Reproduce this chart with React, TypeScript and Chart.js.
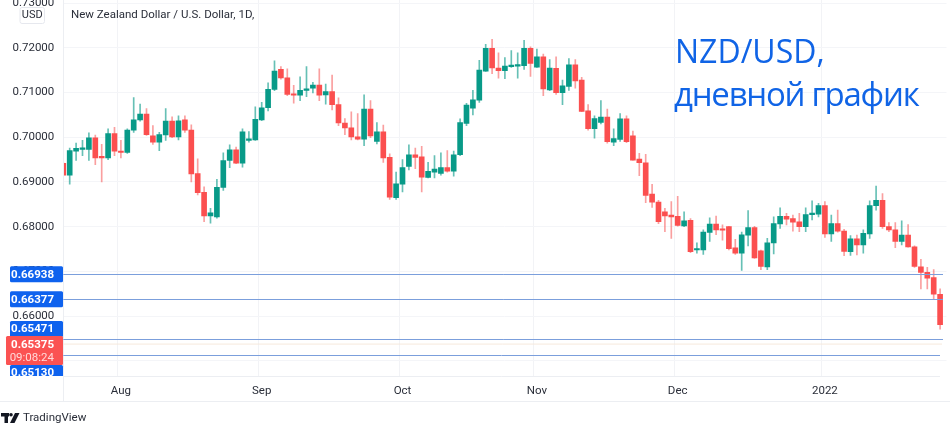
import { useEffect, useRef } from "react";
import { Chart, registerables } from "chart.js";

Chart.register(...registerables);

const opens = [
  0.6942, 0.6915, 0.6969, 0.6973, 0.6973, 0.6999, 0.6955, 0.6954, 0.7008, 0.6969,
  0.6966, 0.7016, 0.7039, 0.7052, 0.7003, 0.6989, 0.7005, 0.7036, 0.7001, 0.7039,
  0.7016, 0.6919, 0.6877, 0.6824, 0.6822, 0.6888, 0.6948, 0.6972, 0.6942, 0.6993,
  0.6994, 0.7039, 0.7066, 0.7107, 0.7152, 0.7133, 0.7097, 0.7094, 0.7105, 0.711,
  0.7117, 0.7095, 0.7102, 0.7073, 0.7032, 0.7021, 0.7001, 0.6996, 0.7063, 0.6991,
  0.7012, 0.6955, 0.6865, 0.6895, 0.6935, 0.6961, 0.6956, 0.691, 0.6922, 0.6919,
  0.6932, 0.6924, 0.6961, 0.7031, 0.7065, 0.7083, 0.7148, 0.7199, 0.7155, 0.7149,
  0.7158, 0.7159, 0.716, 0.7199, 0.7157, 0.718, 0.7106, 0.7154, 0.71, 0.7114,
  0.7162, 0.7128, 0.7059, 0.7019, 0.7033, 0.7045, 0.6989, 0.6995, 0.7041, 0.7003,
  0.6951, 0.6943, 0.6873, 0.6855, 0.6833, 0.6826, 0.6823, 0.6802, 0.6814, 0.6748,
  0.6748, 0.6787, 0.6806, 0.6794, 0.68, 0.6753, 0.6741, 0.6781, 0.6798, 0.6746,
  0.671, 0.6764, 0.6806, 0.6823, 0.6818, 0.6811, 0.68, 0.6827, 0.6828, 0.6847,
  0.6784, 0.6807, 0.679, 0.6744, 0.6773, 0.6759, 0.6784, 0.6847, 0.6859, 0.68,
  0.6793, 0.6767, 0.6781, 0.6755, 0.671, 0.6698, 0.6686, 0.6649,
];
const closes = [
  0.6915, 0.697, 0.6975, 0.6975, 0.6999, 0.6954, 0.6954, 0.7008, 0.6969, 0.6966,
  0.7016, 0.7039, 0.7052, 0.7006, 0.6989, 0.7006, 0.7036, 0.7001, 0.7037, 0.7016,
  0.6918, 0.6876, 0.6824, 0.6831, 0.6888, 0.6948, 0.6972, 0.6942, 0.7012, 0.6995,
  0.704, 0.7066, 0.7107, 0.7148, 0.7133, 0.7096, 0.7094, 0.7105, 0.7107, 0.7117,
  0.7094, 0.7102, 0.7073, 0.7032, 0.7021, 0.7001, 0.6996, 0.7063, 0.7003, 0.7012,
  0.6954, 0.6866, 0.6896, 0.6932, 0.6961, 0.6955, 0.6911, 0.6924, 0.6929, 0.6932,
  0.6924, 0.6961, 0.7033, 0.7072, 0.7084, 0.715, 0.7199, 0.7155, 0.7149, 0.7159,
  0.716, 0.7162, 0.7199, 0.7165, 0.718, 0.7108, 0.7155, 0.71, 0.7115, 0.7162,
  0.7126, 0.7058, 0.7019, 0.7042, 0.7045, 0.699, 0.6997, 0.7041, 0.699, 0.6949,
  0.6943, 0.687, 0.6855, 0.6811, 0.6824, 0.6822, 0.6803, 0.6813, 0.6744, 0.675,
  0.6788, 0.6806, 0.6793, 0.6792, 0.6751, 0.6741, 0.6782, 0.6798, 0.673, 0.6711,
  0.6764, 0.6807, 0.6823, 0.6817, 0.681, 0.68, 0.6827, 0.683, 0.6847, 0.6784,
  0.6807, 0.679, 0.6745, 0.6773, 0.6759, 0.6785, 0.6847, 0.6859, 0.68, 0.6793,
  0.6767, 0.6781, 0.6755, 0.6711, 0.6698, 0.6685, 0.6649, 0.6581,
];
const highs = [
  0.6944, 0.6976, 0.6987, 0.6993, 0.701, 0.7005, 0.6984, 0.7019, 0.7022, 0.6993,
  0.7019, 0.7089, 0.7074, 0.7064, 0.7026, 0.7011, 0.7064, 0.7046, 0.7048, 0.7048,
  0.7028, 0.6952, 0.6889, 0.6841, 0.6906, 0.6965, 0.6983, 0.6978, 0.7019, 0.7013,
  0.7068, 0.7078, 0.7122, 0.7171, 0.7158, 0.7153, 0.7116, 0.7135, 0.7158, 0.7123,
  0.7153, 0.7119, 0.7139, 0.7088, 0.7042, 0.7057, 0.7053, 0.7095, 0.7082, 0.7033,
  0.7027, 0.6963, 0.6922, 0.695, 0.6983, 0.6976, 0.698, 0.6944, 0.6959, 0.6965,
  0.697, 0.6969, 0.7041, 0.7076, 0.7105, 0.7172, 0.7208, 0.7219, 0.7189, 0.7178,
  0.7194, 0.7189, 0.7217, 0.7202, 0.7197, 0.7186, 0.7174, 0.718, 0.7128, 0.7176,
  0.7174, 0.7134, 0.7073, 0.7048, 0.7082, 0.7063, 0.7019, 0.7053, 0.7048, 0.7014,
  0.6964, 0.6962, 0.6895, 0.6859, 0.6841, 0.6856, 0.6868, 0.6833, 0.6818, 0.6764,
  0.6793, 0.682, 0.6824, 0.6804, 0.6801, 0.6772, 0.6788, 0.6836, 0.6801, 0.6748,
  0.6774, 0.6822, 0.6842, 0.683, 0.6826, 0.683, 0.6842, 0.6858, 0.6852, 0.6856,
  0.6826, 0.6837, 0.6794, 0.678, 0.6781, 0.6793, 0.6858, 0.6891, 0.6874, 0.6809,
  0.6809, 0.6813, 0.6805, 0.6757, 0.6727, 0.6709, 0.6704, 0.6661,
];
const lows = [
  0.6915, 0.6895, 0.6948, 0.6959, 0.6948, 0.6939, 0.69, 0.695, 0.6959, 0.6954,
  0.6964, 0.7011, 0.7036, 0.7004, 0.6984, 0.697, 0.6993, 0.6999, 0.6994, 0.7011,
  0.69, 0.6871, 0.6811, 0.6808, 0.6819, 0.6881, 0.6932, 0.6941, 0.6933, 0.6989,
  0.6993, 0.7037, 0.7059, 0.7104, 0.713, 0.7093, 0.7076, 0.7082, 0.7091, 0.7099,
  0.7082, 0.7074, 0.7061, 0.7026, 0.7006, 0.6994, 0.6994, 0.6981, 0.6999, 0.6985,
  0.6944, 0.6861, 0.6861, 0.6878, 0.6927, 0.693, 0.6878, 0.6909, 0.6909, 0.6915,
  0.6922, 0.6913, 0.6959, 0.7026, 0.705, 0.7078, 0.7147, 0.7142, 0.7132, 0.7131,
  0.7156, 0.7132, 0.7152, 0.7136, 0.7156, 0.7093, 0.7104, 0.7096, 0.7073, 0.7105,
  0.711, 0.7057, 0.7016, 0.6998, 0.703, 0.6987, 0.6981, 0.6991, 0.6988, 0.6949,
  0.6914, 0.6854, 0.6843, 0.6807, 0.6789, 0.6774, 0.6801, 0.68, 0.6742, 0.6741,
  0.6738, 0.6767, 0.6782, 0.677, 0.6748, 0.6738, 0.6702, 0.6757, 0.6729, 0.6704,
  0.6704, 0.6739, 0.6796, 0.6804, 0.679, 0.6789, 0.6789, 0.6815, 0.6822, 0.6776,
  0.6767, 0.6788, 0.6735, 0.6736, 0.6737, 0.6741, 0.6774, 0.6837, 0.6796, 0.6789,
  0.6753, 0.6759, 0.6754, 0.6709, 0.6661, 0.6661, 0.6638, 0.6571,
];

const monthIndexes = [9, 31, 53, 74, 96, 119];
const monthNames = ["Aug", "Sep", "Oct", "Nov", "Dec", "2022"];
const yTicks = [0.65, 0.66, 0.67, 0.68, 0.69, 0.7, 0.71, 0.72, 0.73];
const levels = [0.66938, 0.66377, 0.65471, 0.6513];
const levelTagCenters = [0.66938, 0.66377, 0.65712, 0.64727];
const lastPrice = 0.65375;
const countdown = "09:08:24";
const legendText = "New Zealand Dollar / U.S. Dollar, 1D,";
const titleLines = ["NZD/USD,", "дневной график"];

const UP = "#089a88";
const DOWN = "#fb4f4f";
const UP_WICK = "rgba(8,154,136,0.62)";
const DOWN_WICK = "rgba(245,80,80,0.55)";
const FONT = "Roboto, sans-serif";

const categories = Array.from({ length: opens.length + 1 }, (_, i) => {
  const at = monthIndexes.indexOf(i);
  return at >= 0 ? monthNames[at] : "";
});

const overlay = {
  id: "overlay",
  afterDatasetsDraw(chart: any) {
    const { ctx, scales, chartArea } = chart;
    const y = scales.y;
    ctx.save();

    ctx.strokeStyle = "#eceef2";
    ctx.lineWidth = 1;
    ctx.beginPath();
    ctx.moveTo(0, 401.5);
    ctx.lineTo(950, 401.5);
    ctx.moveTo(chartArea.left, 376.5);
    ctx.lineTo(940, 376.5);
    ctx.moveTo(63.5, 0);
    ctx.lineTo(63.5, 401);
    ctx.stroke();

    ctx.lineWidth = 1;
    ctx.strokeStyle = "#f6e9dc";
    ctx.beginPath();
    ctx.moveTo(chartArea.left, y.getPixelForValue(lastPrice));
    ctx.lineTo(942, y.getPixelForValue(lastPrice));
    ctx.stroke();
    ctx.strokeStyle = "#7b9fdc";
    levels.forEach((v, i) => {
      const py = Math.floor(y.getPixelForValue(v)) + 0.5;
      ctx.beginPath();
      ctx.moveTo(chartArea.left, py);
      ctx.lineTo(i === 3 ? 940 : 943, py);
      ctx.stroke();
    });

    const tag = (cy: number, h: number, left: number, color: string) => {
      ctx.fillStyle = color;
      ctx.beginPath();
      ctx.roundRect(left, cy - h / 2, 63 - left, h, 1.5);
      ctx.fill();
    };
    ctx.textBaseline = "middle";
    ctx.textAlign = "right";
    ctx.font = `bold 11.5px ${FONT}`;
    levels.forEach((v, i) => {
      const cy = y.getPixelForValue(levelTagCenters[i]);
      ctx.save();
      ctx.beginPath();
      ctx.rect(0, 0, 950, 376);
      ctx.clip();
      tag(cy, 16, 10, "#0e62ee");
      ctx.fillStyle = "#ffffff";
      ctx.fillText(v.toFixed(5), 54, cy + 0.5);
      ctx.restore();
    });
    tag(350.5, 29, 6, "#fb5252");
    ctx.fillStyle = "#ffffff";
    ctx.fillText(lastPrice.toFixed(5), 54, 345);
    ctx.font = `11.5px ${FONT}`;
    ctx.fillStyle = "#ffd9d9";
    ctx.fillText(countdown, 54, 358);

    ctx.strokeStyle = "#e6e8ee";
    ctx.fillStyle = "#ffffff";
    ctx.beginPath();
    ctx.roundRect(20, 7.5, 24.5, 16, 2);
    ctx.fill();
    ctx.stroke();
    ctx.fillStyle = "#2a2e39";
    ctx.textAlign = "center";
    ctx.font = `11px ${FONT}`;
    ctx.fillText("USD", 32.2, 15.5);

    ctx.textAlign = "left";
    ctx.font = `11.5px ${FONT}`;
    ctx.fillText(legendText, 71, 15.5);

    ctx.textBaseline = "alphabetic";
    ctx.fillStyle = "#1064e6";
    ctx.font = `32px "Open Sans", sans-serif`;
    ctx.fillText(titleLines[0], 675, 63);
    ctx.font = `33px "Open Sans", sans-serif`;
    ctx.letterSpacing = "-1.25px";
    ctx.fillText(titleLines[1], 674, 106);
    ctx.letterSpacing = "0px";
    ctx.textBaseline = "middle";

    ctx.fillStyle = "#131722";
    ctx.fillRect(1, 413, 8, 3.5);
    ctx.fillRect(4.5, 413, 3.5, 10);
    ctx.beginPath();
    ctx.arc(11, 414.7, 1.8, 0, Math.PI * 2);
    ctx.fill();
    ctx.beginPath();
    ctx.moveTo(15, 413);
    ctx.lineTo(19.5, 413);
    ctx.lineTo(14.5, 423);
    ctx.lineTo(10, 423);
    ctx.closePath();
    ctx.fill();
    ctx.fillStyle = "#2a2e39";
    ctx.font = `11.5px ${FONT}`;
    ctx.fillText("TradingView", 23, 418.5);
    ctx.restore();
  },
};

export default function App() {
  const ref = useRef<HTMLCanvasElement>(null);
  useEffect(() => {
    const chart = new Chart(ref.current!, {
      type: "bar",
      data: {
        labels: categories,
        datasets: [
          {
            label: "Wick",
            data: lows.map((l, i) => [l, highs[i]]),
            backgroundColor: opens.map((o, i) => (closes[i] >= o ? UP_WICK : DOWN_WICK)),
            barThickness: 1,
            grouped: false,
            order: 2,
          },
          {
            label: "Body",
            data: opens.map((o, i) => [o, closes[i]]),
            backgroundColor: opens.map((o, i) => (closes[i] >= o ? UP : DOWN)),
            barThickness: 5,
            minBarLength: 1.5,
            grouped: false,
            order: 1,
          },
        ],
      } as any,
      options: {
        responsive: false,
        animation: false,
        devicePixelRatio: 1,
        layout: { padding: { top: 0, right: 3.5, bottom: 0, left: 0 } },
        plugins: { legend: { display: false }, tooltip: { enabled: false }, title: { display: false } },
        scales: {
          x: {
            type: "category",
            offset: false,
            afterFit(s: any) {
              s.height = 48.5;
              s.paddingLeft = 0;
              s.paddingRight = 0;
            },
            border: { display: false },
            grid: {
              drawTicks: false,
              color: (c: any) => (c.tick && c.tick.label ? "#f2f3f6" : "rgba(0,0,0,0)"),
            },
            ticks: {
              autoSkip: false,
              maxRotation: 0,
              minRotation: 0,
              padding: 8,
              color: "#2a2e39",
              font: { family: FONT, size: 11.5 },
            },
          },
          y: {
            type: "linear",
            min: 0.6465,
            max: 0.7307,
            afterBuildTicks(s: any) {
              s.ticks = yTicks.map((value) => ({ value }));
            },
            afterFit(s: any) {
              s.width = 63.3;
              s.paddingTop = 0;
              s.paddingBottom = 0;
            },
            border: { display: false },
            grid: { drawTicks: false, color: "#f4f5f8" },
            ticks: {
              autoSkip: false,
              padding: 9,
              color: "#2a2e39",
              font: { family: FONT, size: 11.5 },
              callback: (v: any) => Number(v).toFixed(5),
            },
          },
        },
      } as any,
      plugins: [overlay],
    });
    return () => chart.destroy();
  }, []);
  return (
    <div style={{ position: "absolute", left: 0, top: 0, width: 950, height: 425, background: "#ffffff" }}>
      <canvas ref={ref} width={950} height={425} style={{ display: "block" }} />
    </div>
  );
}
